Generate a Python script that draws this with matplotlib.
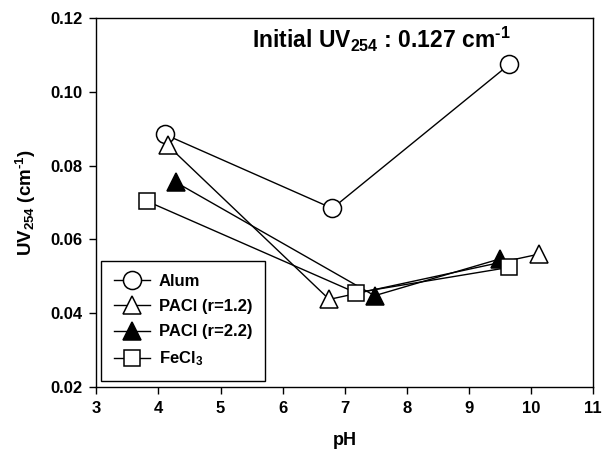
import matplotlib
matplotlib.use("Agg")
import matplotlib.pyplot as plt

plt.rcParams['font.family'] = ['Liberation Sans', 'DejaVu Sans']
plt.rcParams['font.weight'] = 'bold'
plt.rcParams['mathtext.fontset'] = 'custom'
plt.rcParams['mathtext.rm'] = 'Liberation Sans:bold'
plt.rcParams['mathtext.bf'] = 'Liberation Sans:bold'
plt.rcParams['mathtext.default'] = 'rm'

# residual UV254 after coagulation at different pH
alum_ph = [4.1, 6.8, 9.65]
alum_uv = [0.0885, 0.0684, 0.1075]
pacl12_ph = [4.15, 6.75, 10.13]
pacl12_uv = [0.0855, 0.0437, 0.0560]
pacl22_ph = [4.28, 7.48, 9.5]
pacl22_uv = [0.0755, 0.0447, 0.0547]
fecl3_ph = [3.81, 7.18, 9.65]
fecl3_uv = [0.0704, 0.0455, 0.0524]

series = [
    (alum_ph, alum_uv, 'o', 'white', 13, 'Alum'),
    (pacl12_ph, pacl12_uv, '^', 'white', 13, 'PACl (r=1.2)'),
    (pacl22_ph, pacl22_uv, '^', 'black', 13, 'PACl (r=2.2)'),
    (fecl3_ph, fecl3_uv, 's', 'white', 11, 'FeCl$_3$'),
]

fig = plt.figure(figsize=(6.16, 4.51), dpi=100)
ax = fig.add_axes([0.1563, 0.1426, 0.8067, 0.8168])

for x, y, m, fc, ms, lab in series:
    ax.plot(x, y, color='black', lw=1, marker=m, ms=ms, mfc=fc, mec='black',
            mew=1.1, label=lab)

ax.set_xlim(3, 11)
ax.set_ylim(0.02, 0.12)
ax.set_xticks(range(3, 12))
ax.set_yticks([0.02, 0.04, 0.06, 0.08, 0.10, 0.12])
ax.set_yticklabels(['0.02', '0.04', '0.06', '0.08', '0.10', '0.12'])
ax.tick_params(direction='out', length=5, width=1, labelsize=12, pad=5,
               top=False, right=False)
for s in ax.spines.values():
    s.set_linewidth(1)

ax.set_xlabel('pH', fontsize=13, fontweight='bold', labelpad=12)
ax.set_ylabel(r'UV$_{254}$ (cm$^{\text{-}1}$)', fontsize=13.5, fontweight='bold',
              labelpad=9)

ax.text(5.5, 0.1142, r'Initial UV$_{254}$ : 0.127 cm$^{\text{-}1}$', fontsize=16.5,
        fontweight='bold', ha='left', va='center')

leg = ax.legend(loc='lower left', bbox_to_anchor=(0.0095, 0.0155), fancybox=False,
                edgecolor='black', framealpha=1, fontsize=12, borderpad=0.75,
                labelspacing=0.62, handlelength=2.2, handletextpad=0.5,
                borderaxespad=0)
leg.get_frame().set_linewidth(1)

fig.savefig('out.png', dpi=100)
